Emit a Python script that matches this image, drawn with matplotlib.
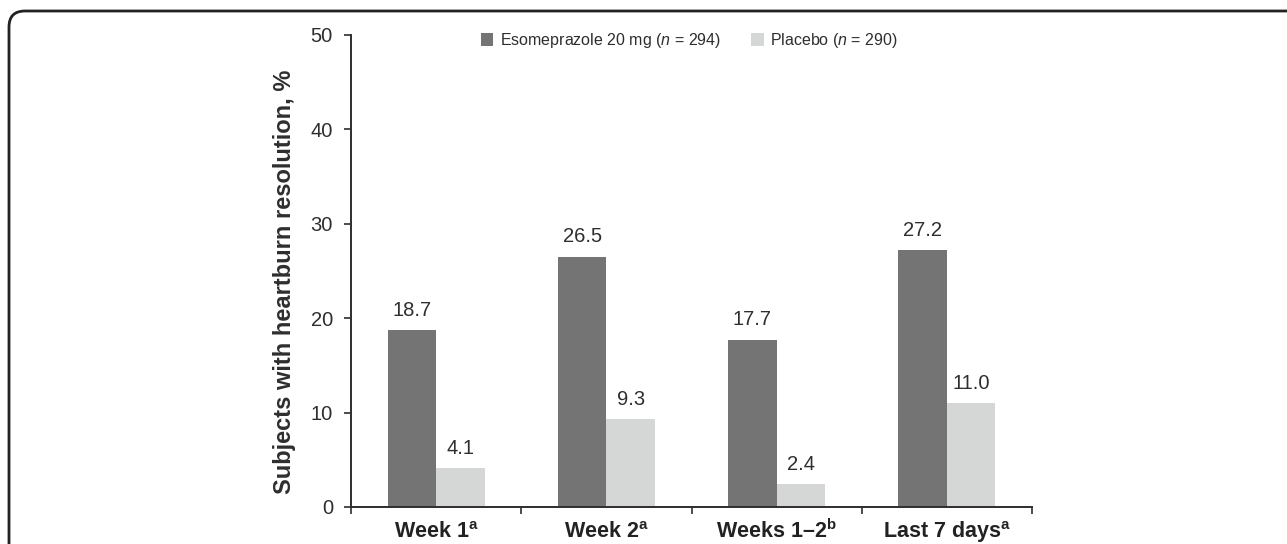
import matplotlib
matplotlib.use("Agg")
import matplotlib.pyplot as plt
from matplotlib.patches import FancyBboxPatch
from matplotlib.transforms import IdentityTransform
import numpy as np

matplotlib.rc("font", family="Liberation Sans", size=14)
matplotlib.rc("mathtext", fontset="custom", rm="Liberation Sans",
              it="Liberation Sans:italic", bf="Liberation Sans:bold")

categories = ["Week 1$^{\\mathbf{a}}$", "Week 2$^{\\mathbf{a}}$",
              "Weeks 1\u20132$^{\\mathbf{b}}$", "Last 7 days$^{\\mathbf{a}}$"]
esomeprazole = [18.7, 26.5, 17.7, 27.2]
placebo = [4.1, 9.3, 2.4, 11.0]
series_labels = ["Esomeprazole 20 mg ($n$ = 294)", "Placebo ($n$ = 290)"]

DARK = "#747474"
LIGHT = "#d5d7d7"
INK = "#2e2e2e"

fig = plt.figure(figsize=(12.87, 5.44), dpi=100)
ax = fig.add_axes([351 / 1287, 1 - 507 / 544, (1032 - 351) / 1287, (507 - 35) / 544])

# rounded panel frame, partly off the canvas like the source crop
frame = FancyBboxPatch((9, -40), 1320, 544 - 11 + 40, boxstyle="round,pad=0,rounding_size=16",
                       transform=IdentityTransform(), fill=False, lw=2, ec="#222222")
fig.patches.append(frame)

x = np.arange(len(categories))
w = 0.285
b1 = ax.bar(x - w / 2, esomeprazole, w, color=DARK, label=series_labels[0])
b2 = ax.bar(x + w / 2, placebo, w, color=LIGHT, label=series_labels[1])

for bars, vals in [(b1, esomeprazole), (b2, placebo)]:
    for bar, v in zip(bars, vals):
        ax.annotate("{:.1f}".format(v), (bar.get_x() + bar.get_width() / 2, v),
                    xytext=(0, 7.5), textcoords="offset points",
                    ha="center", va="bottom", fontsize=14.5, color=INK)

ax.set_xlim(-0.5, len(categories) - 0.5)
ax.set_ylim(0, 50)
ax.set_yticks(range(0, 51, 10))
ax.set_xticks(x)
ax.set_xticklabels(categories, fontweight="bold", fontsize=15.5)
for lbl in ax.get_xticklabels():
    lbl.set_verticalalignment("baseline")
ax.set_xticks(np.arange(-0.5, len(categories), 1), minor=True)
ax.tick_params(axis="x", which="major", length=0, pad=22.5, labelcolor="#222222")
ax.tick_params(axis="x", which="minor", length=5, width=1.2, color=INK, direction="out")
ax.tick_params(axis="y", length=5, width=1.2, color=INK, labelcolor=INK, labelsize=14.5, pad=8)

for s in ["top", "right"]:
    ax.spines[s].set_visible(False)
for s in ["left", "bottom"]:
    ax.spines[s].set_color(INK)
    ax.spines[s].set_linewidth(1.4)

ax.set_ylabel("Subjects with heartburn resolution, %", fontweight="bold", fontsize=17,
              color=INK)
ax.yaxis.set_label_coords(-0.081, 0.477)

ax.legend(loc="center", bbox_to_anchor=(0.497, 0.988), ncol=2, frameon=False,
          fontsize=11.5, handlelength=0.8, handleheight=0.9, handletextpad=0.4,
          columnspacing=1.9, labelcolor=INK)

fig.savefig("out.png", dpi=100, facecolor="white")
